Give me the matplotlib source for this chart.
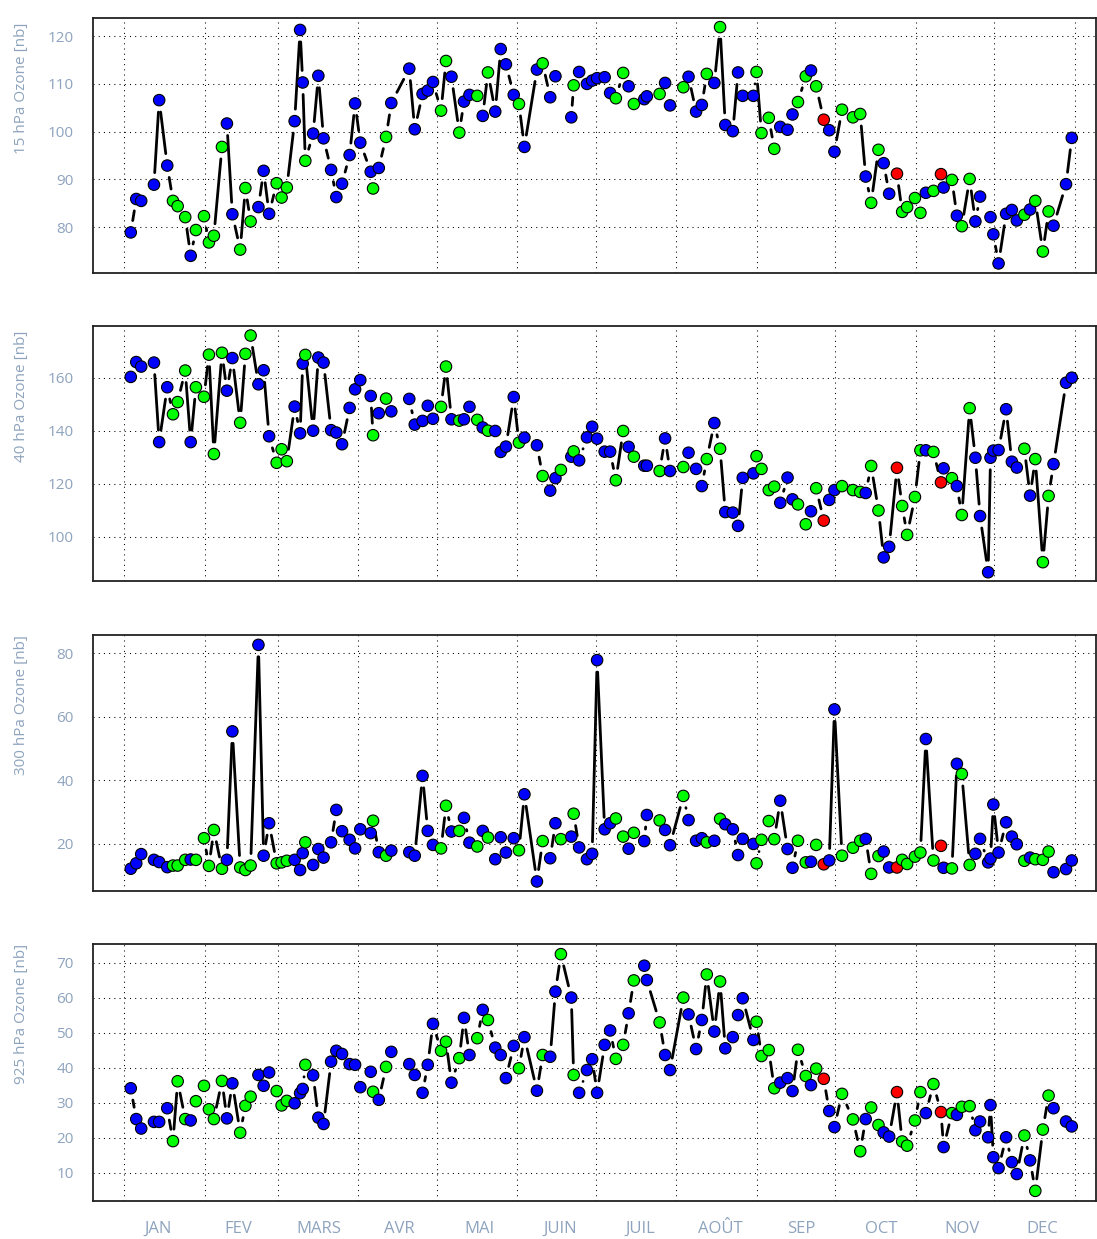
import numpy as np
import matplotlib.pyplot as plt
from matplotlib.collections import LineCollection

# Jour de l'année (0 = 1er janvier) de chaque sondage
jours = [2.6, 4.7, 6.6, 11.5, 13.5, 16.6, 18.8, 20.6, 23.5, 25.6,
         27.6, 30.7, 32.6, 34.5, 37.6, 39.5, 41.6, 44.6, 46.6, 48.6,
         51.6, 53.6, 55.7, 58.6, 60.5, 62.5, 65.5, 67.6, 68.6, 69.6,
         72.6, 74.6, 76.6, 79.5, 81.5, 83.7, 86.6, 88.7, 90.7, 94.7,
         95.6, 97.8, 100.6, 102.6, 109.5, 111.6, 114.6, 116.6, 118.6, 121.7,
         123.6, 125.7, 128.7, 130.5, 132.6, 135.6, 137.7, 139.7, 142.5, 144.6,
         146.6, 149.6, 151.6, 153.7, 158.5, 160.7, 163.6, 165.6, 167.7, 171.7,
         172.6, 174.7, 177.7, 179.7, 181.6, 184.5, 186.6, 188.8, 191.6, 193.7,
         195.7, 199.7, 200.7, 205.6, 207.7, 209.6, 214.7, 216.7, 219.6, 221.8,
         223.7, 226.6, 228.8, 230.8, 233.7, 235.7, 237.5, 241.6, 242.8, 244.7,
         247.5, 249.6, 251.9, 254.7, 256.6, 258.7, 261.7, 263.7, 265.7, 268.6,
         270.7, 272.7, 275.6, 279.8, 282.6, 284.7, 286.8, 289.6, 291.6, 293.7,
         296.7, 298.7, 300.6, 303.6, 305.7, 307.8, 310.7, 313.6, 314.6, 317.8,
         319.7, 321.6, 324.6, 326.8, 328.6, 331.7, 332.6, 333.7, 335.7, 338.6,
         340.8, 342.7, 345.6, 347.8, 349.8, 352.7, 354.9, 356.8, 361.6, 363.8]

# type de sonde : b = bleu, g = vert, r = rouge
types = list("bbbbbbgggb"
             "gggggbbggg"
             "bbbgggbbbg"
             "bbbbbbbbbb"
             "gbgbbbbbbg"
             "gbgbbgbgbb"
             "bbgbbgbbgb"
             "gbbbbbbggb"
             "gbbgbbgbbb"
             "gbgbbbbbgg"
             "ggbbbggbgr"
             "bbgggbggbb"
             "rggggbgrbg"
             "bggbbbbbbb"
             "bbgbgggbbb")

nan = np.nan
o3_15 = [78.9, 85.9, 85.5, 88.9, 106.6, 92.9, 85.5, 84.4, 82.1, 74.0,
         79.4, 82.3, 76.8, 78.2, 96.8, 101.7, 82.7, 75.3, 88.2, 81.2,
         84.2, 91.8, 82.8, 89.2, 86.2, 88.3, 102.2, 121.3, 110.3, 93.9,
         99.6, 111.7, 98.6, 92.0, 86.3, 89.1, 95.1, 105.9, 97.7, 91.6,
         88.1, 92.4, 98.9, 106.0, 113.2, 100.5, 107.9, 108.6, 110.4, 104.4,
         114.8, 111.5, 99.8, 106.3, 107.7, 107.5, 103.3, 112.4, 104.2, 117.3,
         114.1, 107.7, 105.8, 96.8, 113.0, 114.3, 107.2, 111.6, nan, 103.0,
         109.7, 112.5, 110.0, 110.7, 111.2, 111.4, 108.1, 107.0, 112.3, 109.5,
         105.8, 106.8, 107.4, 107.9, 110.2, 105.5, 109.3, 111.5, 104.2, 105.6,
         112.1, 110.2, 121.9, 101.4, 100.1, 112.4, 107.5, 107.5, 112.5, 99.7,
         102.9, 96.4, 101.0, 100.4, 103.6, 106.2, 111.6, 112.8, 109.5, 102.5,
         100.3, 95.8, 104.6, 103.0, 103.7, 90.6, 85.1, 96.2, 93.4, 87.0,
         91.2, 83.2, 84.2, 86.1, 83.0, 87.2, 87.6, 91.1, 88.3, 89.9,
         82.4, 80.2, 90.1, 81.2, 86.4, nan, 82.1, 78.5, 72.4, 82.8,
         83.6, 81.4, 82.6, 83.7, 85.5, 74.9, 83.3, 80.3, 89.0, 98.7]

o3_40 = [160.4, 166.0, 164.3, 165.8, 135.8, 156.5, 146.3, 150.9, 162.8, 135.8,
         156.5, 152.9, 168.8, 131.3, 169.5, 155.2, 167.5, 143.1, 169.1, 176.0,
         157.6, 162.9, 138.0, 128.0, 133.1, 128.6, 149.2, 139.1, 165.4, 168.7,
         140.1, 167.7, 165.8, 140.3, 139.4, 135.0, 148.7, 155.7, 159.2, 153.2,
         138.4, 146.7, 152.2, 147.4, 152.1, 142.4, 143.8, 149.5, 144.6, 149.1,
         164.3, 144.4, 143.9, 144.4, 149.1, 144.2, 141.3, 140.1, 140.0, 132.1,
         134.1, 152.8, 135.6, 137.5, 134.6, 123.0, 117.5, 122.2, 125.3, 130.3,
         132.3, 128.9, 137.6, 141.6, 137.1, 132.2, 132.2, 121.4, 140.0, 134.0,
         130.3, 126.9, 126.9, 124.9, 137.2, 124.9, 126.4, 131.8, 125.7, 119.2,
         129.4, 143.0, 133.3, 109.4, 109.2, 104.2, 122.3, 124.0, 130.5, 125.7,
         117.7, 119.0, 112.9, 122.4, 114.2, 112.3, 104.8, 109.7, 118.4, 106.2,
         114.0, 117.7, 119.2, 117.7, 117.0, 116.6, 126.8, 110.0, 92.3, 96.3,
         126.1, 111.7, 100.8, 115.1, 132.7, 132.7, 132.1, 120.6, 125.9, 122.2,
         119.2, 108.3, 148.6, 129.9, 107.9, 86.7, 129.9, 132.6, 132.8, 148.2,
         128.4, 126.2, 133.3, 115.6, 129.4, 90.5, 115.5, 127.5, 158.2, 160.1]

o3_300 = [12.2, 13.9, 16.8, 15.0, 14.3, 12.7, 13.2, 13.2, 15.0, 15.1,
          15.0, 21.8, 13.1, 24.4, 12.2, 15.0, 55.4, 12.6, 11.8, 13.2,
          82.6, 16.3, 26.5, 13.9, 14.2, 14.7, 15.0, 11.8, 17.1, 20.5,
          13.4, 18.4, 15.7, 20.5, 30.7, 24.0, 21.3, 18.6, 24.6, 23.4,
          27.3, 17.4, 16.3, 17.9, 17.4, 16.3, 41.4, 24.1, 19.7, 18.6,
          32.0, 23.9, 24.1, 28.2, 20.4, 19.2, 24.1, 22.0, 15.2, 22.1,
          17.3, 21.8, 18.0, 35.6, 8.2, 20.9, 15.5, 26.5, 21.5, 22.3,
          29.5, 18.9, 15.2, 16.9, 77.8, 24.6, 26.5, 28.0, 22.3, 18.5,
          23.5, 20.9, 29.1, 27.4, 24.4, 19.6, 35.1, 27.5, 21.0, 21.8,
          20.5, 21.0, 27.9, 26.2, 24.6, 16.5, 21.6, 20.0, 13.9, 21.3,
          27.2, 21.5, 33.6, 18.4, 12.5, 21.0, 14.2, 14.4, 19.7, 13.6,
          14.8, 62.3, 16.3, 18.8, 21.0, 21.6, 10.6, 16.2, 17.6, 12.6,
          12.6, 15.0, 13.7, 16.0, 17.3, 53.0, 14.8, 19.4, 12.5, 12.3,
          45.2, 42.0, 13.4, 16.9, 21.6, 14.2, 15.4, 32.4, 17.3, 26.8,
          22.3, 19.9, 14.7, 15.7, 15.2, 15.0, 17.6, 11.1, 12.1, 14.8]

o3_925 = [34.2, 25.4, 22.7, 24.6, 24.6, 28.5, 19.1, 36.2, 25.4, 25.0,
          30.5, 34.9, 28.2, 25.4, 36.3, 25.6, 35.6, 21.5, 29.2, 31.8,
          38.0, 34.9, 38.7, 33.4, 29.3, 30.6, 29.9, 32.8, 34.0, 40.9,
          37.9, 25.8, 24.0, 41.8, 44.9, 44.0, 41.1, 40.9, 34.5, 38.9,
          33.2, 30.9, 40.3, 44.6, 41.1, 38.0, 32.9, 40.9, 52.6, 44.9,
          47.5, 35.8, 42.8, 54.3, 43.7, 48.5, 56.6, 53.7, 45.8, 43.7,
          37.1, 46.3, 39.9, 48.8, 33.5, 43.7, 43.2, 61.8, 72.5, 60.1,
          38.0, 32.9, 39.4, 42.5, 32.9, 46.6, 50.7, 42.6, 46.6, 55.6,
          65.0, 69.2, 65.1, 53.0, 43.7, 39.4, 60.1, 55.3, 45.4, 53.7,
          66.7, 50.4, 64.7, 45.6, 48.8, 55.1, 59.9, 48.0, 53.2, 43.4,
          45.1, 34.2, 35.8, 37.1, 33.4, 45.2, 37.7, 35.1, 39.8, 36.9,
          27.7, 23.1, 32.6, 25.3, 16.2, 25.4, 28.7, 23.7, 21.6, 20.4,
          33.1, 19.0, 17.8, 25.0, 33.1, 27.1, 35.4, 27.4, 17.4, 27.1,
          26.6, 28.9, 29.1, 22.2, 24.7, 20.2, 29.4, 14.5, 11.4, 20.2,
          13.1, 9.7, 20.7, 13.6, 4.9, 22.4, 32.1, 28.5, 24.7, 23.3]

niveaux = ['15 hPa', '40 hPa', '300 hPa', '925 hPa']
series = [o3_15, o3_40, o3_300, o3_925]
limites_y = [(70.4, 123.8), (83.4, 179.6), (5.2, 85.7), (2.0, 75.4)]
ticks_y = [[80, 90, 100, 110, 120], [100, 120, 140, 160], [20, 40, 60, 80],
           [10, 20, 30, 40, 50, 60, 70]]

debut_mois = [0, 31, 59, 90, 120, 151, 181, 212, 243, 273, 304, 334, 365]
noms_mois = ['JAN', 'FEV', 'MARS', 'AVR', 'MAI', 'JUIN', 'JUIL', 'AOÛT',
             'SEP', 'OCT', 'NOV', 'DEC']

couleurs = {'b': '#0000ff', 'g': '#00ff00', 'r': '#ff0000'}
gris_bleu = '#8ea3bd'
plt.rcParams['font.family'] = ['Open Sans', 'DejaVu Sans']

W, H = 1097, 1239
fig = plt.figure(figsize=(W / 100, H / 100), dpi=100)

# position des panneaux en pixels (haut, bas)
hauts = [18, 326, 635, 944]
bas = [273, 581, 891, 1201]
gauche, droite = 93, 1096


def trace_type_b(ax, x, y, ecart=12):
    # comme type="b" dans R : les segments s'arretent a 'ecart' pixels des points
    pts = ax.transData.transform(np.column_stack([x, y]))
    segs = []
    for p, q in zip(pts[:-1], pts[1:]):
        if np.isnan(p).any() or np.isnan(q).any():
            continue
        d = q - p
        L = np.hypot(d[0], d[1])
        if L <= 2 * ecart:
            continue
        u = d / L
        seg = np.array([p + u * ecart, q - u * ecart])
        segs.append(ax.transData.inverted().transform(seg))
    lc = LineCollection(segs, colors='black', linewidths=2.0, capstyle='round', zorder=2)
    ax.add_collection(lc)


x = np.array(jours)
c = [couleurs[t] for t in types]

for i in range(4):
    ax = fig.add_axes([gauche / W, 1 - bas[i] / H, (droite - gauche) / W, (bas[i] - hauts[i]) / H])
    ax.set_xlim(-11.9, 373.1)
    ax.set_ylim(*limites_y[i])
    y = np.array(series[i], dtype=float)

    # grille pointillée
    for v in ticks_y[i]:
        ax.axhline(v, color='black', lw=0.75, linestyle=(0, (1, 4)), zorder=1)
    for m in debut_mois:
        ax.axvline(m, color='black', lw=0.75, linestyle=(0, (1, 4)), zorder=1)

    trace_type_b(ax, x, y)
    ok = ~np.isnan(y)
    ax.scatter(x[ok], y[ok], s=68, c=[c[k] for k in np.where(ok)[0]],
               edgecolors='black', linewidths=0.8, zorder=3)

    ax.set_yticks(ticks_y[i])
    ax.tick_params(axis='y', labelsize=11, labelcolor=gris_bleu, length=0, pad=14)
    ax.set_xticks([])
    for s in ax.spines.values():
        s.set_color('#222222')
        s.set_linewidth(1.3)

    # étiquette de l'axe y, un peu vers le haut comme dans l'original
    fig.text(22 / W, 1 - (hauts[i] + 70) / H, niveaux[i] + ' Ozone [nb]', rotation=90,
             ha='center', va='center', fontsize=11, color=gris_bleu)

# noms des mois sous le dernier panneau
pos_mois = np.linspace(13.0, 352.4, 12)
for p, nom in zip(pos_mois, noms_mois):
    ax.text(p, -0.11, nom, transform=ax.get_xaxis_transform(), ha='center', va='center',
            fontsize=12, color=gris_bleu)

fig.savefig('out.png', dpi=100)
